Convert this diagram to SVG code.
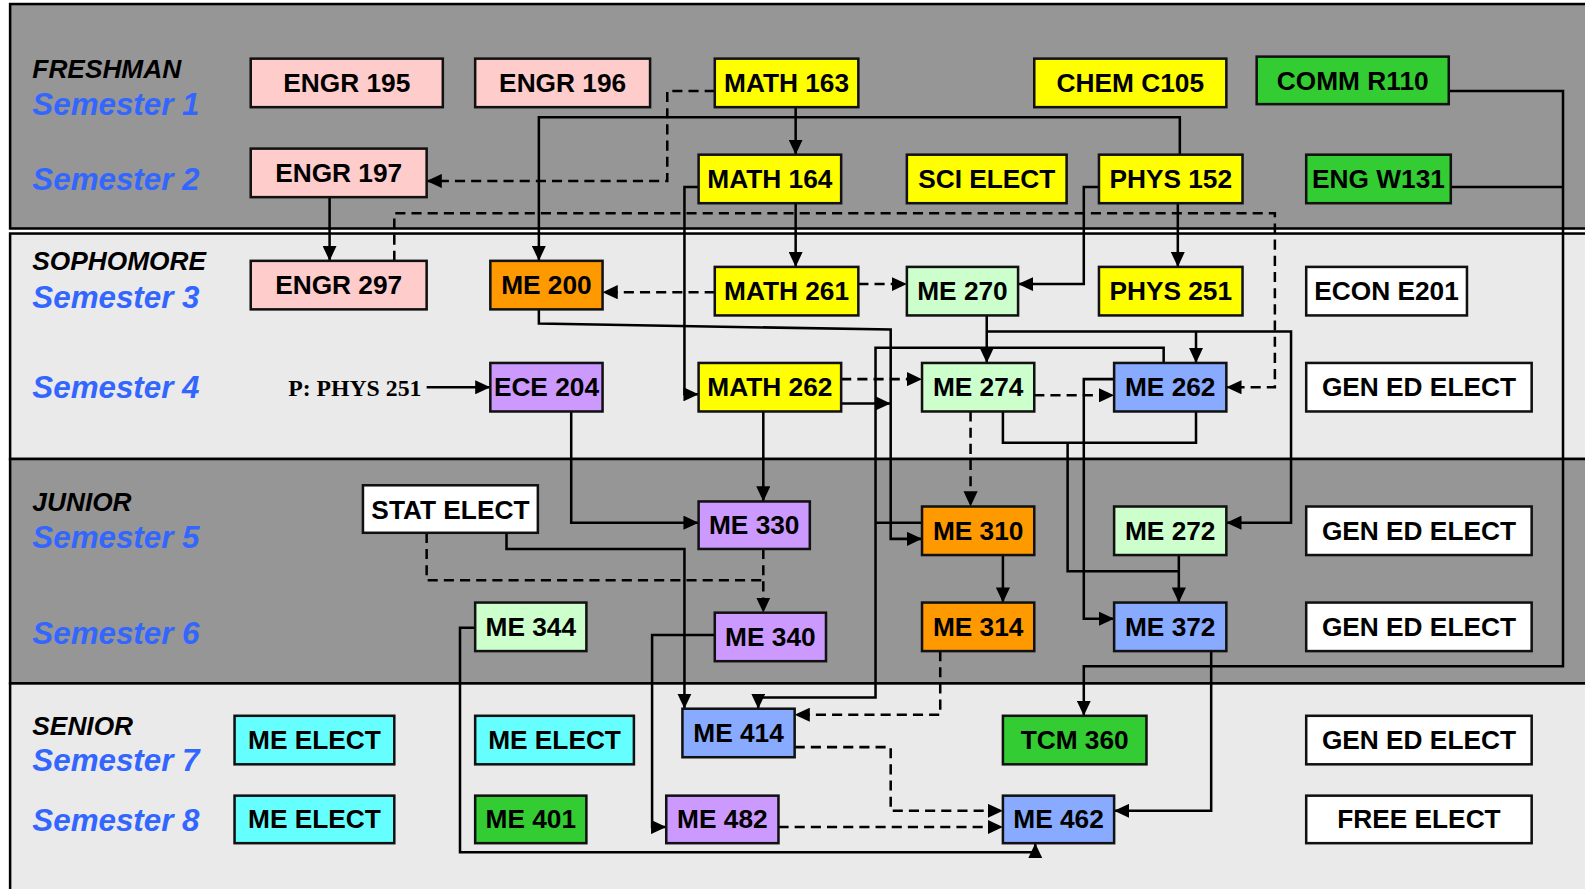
<svg xmlns="http://www.w3.org/2000/svg" width="1585" height="889" viewBox="0 0 1585 889">
<defs>
<marker id="ah" markerUnits="userSpaceOnUse" markerWidth="16" markerHeight="14" refX="15" refY="7" orient="auto" viewBox="0 0 16 14">
<path d="M0,0 L15,7 L0,14 z" fill="#000"/>
</marker>
<style>
.band{stroke:#000;stroke-width:2.5}
.dark{fill:#969696}
.light{fill:#eaeaea}
.yr{font-family:"Liberation Sans",Arial,sans-serif;font-weight:bold;font-style:italic;font-size:26px;fill:#000}
.sem{font-family:"Liberation Sans",Arial,sans-serif;font-weight:bold;font-style:italic;font-size:31px;fill:#3366ff}
.n rect{stroke:#111;stroke-width:2.5}
.n text{font-family:"Liberation Sans",Arial,sans-serif;font-weight:bold;font-size:26px;fill:#000;text-anchor:middle}
.pink{fill:#ffcccc}.yel{fill:#ffff00}.grn{fill:#33cc33}.org{fill:#ff9900}.lg{fill:#ccffcc}.pur{fill:#cc99ff}.blu{fill:#88aaff}.cya{fill:#66ffff}.wht{fill:#ffffff}
#connectors path{fill:none;stroke:#000;stroke-width:2.5}
#connectors path.d{stroke-dasharray:10,6}
#connectors path.a{marker-end:url(#ah)}
.note{font-family:"Liberation Serif","Times New Roman",serif;font-weight:bold;font-size:23.5px;fill:#000}
</style>
</defs>
<rect x="0" y="0" width="1585" height="889" fill="#ffffff"/>
<g transform="scale(1.011)">
<g id="bands">
<rect class="band dark" x="10" y="4" width="1600" height="222"/>
<rect class="band light" x="10" y="231" width="1600" height="223"/>
<rect class="band dark" x="10" y="454" width="1600" height="222"/>
<rect class="band light" x="10" y="676" width="1600" height="240"/>
</g>
<g id="labels">
<text class="yr" x="32" y="77">FRESHMAN</text>
<text class="sem" x="32" y="114">Semester 1</text>
<text class="sem" x="32" y="188">Semester 2</text>
<text class="yr" x="32" y="267">SOPHOMORE</text>
<text class="sem" x="32" y="305">Semester 3</text>
<text class="sem" x="32" y="394">Semester 4</text>
<text class="yr" x="32" y="505">JUNIOR</text>
<text class="sem" x="32" y="542">Semester 5</text>
<text class="sem" x="32" y="637">Semester 6</text>
<text class="yr" x="32" y="727">SENIOR</text>
<text class="sem" x="32" y="763">Semester 7</text>
<text class="sem" x="32" y="822">Semester 8</text>
<text class="note" x="285" y="392">P: PHYS 251</text>
</g>
<g id="connectors">
<path class="d a" d="M707,90 H660 V179 H422"/>
<path class="a" d="M787,106 V153"/>
<path class="a" d="M1167,153 V116 H533 V258"/>
<path class="a" d="M787,201 V264"/>
<path class="a" d="M691,185 H677 V390 H691"/>
<path class="a" d="M1165,201 V264"/>
<path class="a" d="M1087,185 H1072 V281 H1007"/>
<path class="d a" d="M390,258 V211 H1261 V383 H1213"/>
<path class="a" d="M326,195 V258"/>
<path class="d a" d="M707,289 H596"/>
<path class="d a" d="M849,281 H897"/>
<path class="a" d="M533,306 V320 L881,326 V533 H912"/>
<path class="a" d="M1151,359 V344 H866 V690 H750 V701"/>
<path d="M866,517 H912"/>
<path class="a" d="M976,312 V359"/>
<path class="a" d="M976,328 H1277 V517 H1213"/>
<path class="a" d="M1183,328 V359"/>
<path class="d a" d="M1023,391 H1102"/>
<path class="a" d="M1102,375 H1072 V612 H1102"/>
<path d="M992,407 V438 H1183 V407"/>
<path d="M1056,438 V565 H1166"/>
<path class="a" d="M1166,549 V596"/>
<path class="d a" d="M960,407 V501"/>
<path class="d a" d="M832,375 H912"/>
<path class="a" d="M832,399 H881"/>
<path class="a" d="M755,407 V496"/>
<path class="a" d="M565,407 V517 H691"/>
<path class="d a" d="M755,543 V606"/>
<path class="d" d="M422,527 V574 H755"/>
<path class="a" d="M501,527 V543 H677 V701"/>
<path class="a" d="M707,628 H645 V818 H659"/>
<path class="a" d="M470,621 H455 V843 H1024 V834"/>
<path class="d a" d="M930,644 V707 H786"/>
<path class="a" d="M992,549 V596"/>
<path class="d a" d="M786,739 H881 V802 H992"/>
<path class="d a" d="M770,818 H992"/>
<path class="a" d="M1198,644 V802 H1102"/>
<path class="a" d="M1433,90 H1546 V659 H1072 V708"/>
<path d="M1435,185 H1546"/>
<path class="a" d="M422,383 H485"/>
</g>
<g id="engr195" class="n"><rect class="pink" x="248" y="58" width="190" height="48"/><text x="343" y="91">ENGR 195</text></g>
<g id="engr196" class="n"><rect class="pink" x="470" y="58" width="173" height="48"/><text x="556.5" y="91">ENGR 196</text></g>
<g id="math163" class="n"><rect class="yel" x="707" y="58" width="142" height="48"/><text x="778" y="91">MATH 163</text></g>
<g id="chemc105" class="n"><rect class="yel" x="1023" y="58" width="190" height="48"/><text x="1118" y="91">CHEM C105</text></g>
<g id="commr110" class="n"><rect class="grn" x="1243" y="56" width="190" height="47"/><text x="1338" y="89">COMM R110</text></g>
<g id="engr197" class="n"><rect class="pink" x="248" y="147" width="174" height="48"/><text x="335" y="180">ENGR 197</text></g>
<g id="math164" class="n"><rect class="yel" x="691" y="153" width="141" height="48"/><text x="761.5" y="186">MATH 164</text></g>
<g id="scielect" class="n"><rect class="yel" x="897" y="153" width="158" height="48"/><text x="976" y="186">SCI ELECT</text></g>
<g id="phys152" class="n"><rect class="yel" x="1087" y="153" width="142" height="48"/><text x="1158" y="186">PHYS 152</text></g>
<g id="engw131" class="n"><rect class="grn" x="1292" y="153" width="143" height="48"/><text x="1363.5" y="186">ENG W131</text></g>
<g id="engr297" class="n"><rect class="pink" x="248" y="258" width="174" height="48"/><text x="335" y="291">ENGR 297</text></g>
<g id="me200" class="n"><rect class="org" x="485" y="258" width="111" height="48"/><text x="540.5" y="291">ME 200</text></g>
<g id="math261" class="n"><rect class="yel" x="707" y="264" width="142" height="48"/><text x="778" y="297">MATH 261</text></g>
<g id="me270" class="n"><rect class="lg" x="897" y="264" width="110" height="48"/><text x="952" y="297">ME 270</text></g>
<g id="phys251" class="n"><rect class="yel" x="1087" y="264" width="142" height="48"/><text x="1158" y="297">PHYS 251</text></g>
<g id="econe201" class="n"><rect class="wht" x="1292" y="264" width="159" height="48"/><text x="1371.5" y="297">ECON E201</text></g>
<g id="ece204" class="n"><rect class="pur" x="485" y="359" width="111" height="48"/><text x="540.5" y="392">ECE 204</text></g>
<g id="math262" class="n"><rect class="yel" x="691" y="359" width="141" height="48"/><text x="761.5" y="392">MATH 262</text></g>
<g id="me274" class="n"><rect class="lg" x="912" y="359" width="111" height="48"/><text x="967.5" y="392">ME 274</text></g>
<g id="me262" class="n"><rect class="blu" x="1102" y="359" width="111" height="48"/><text x="1157.5" y="392">ME 262</text></g>
<g id="gened4" class="n"><rect class="wht" x="1292" y="359" width="223" height="48"/><text x="1403.5" y="392">GEN ED ELECT</text></g>
<g id="statelect" class="n"><rect class="wht" x="359" y="480" width="173" height="47"/><text x="445.5" y="513">STAT ELECT</text></g>
<g id="me330" class="n"><rect class="pur" x="691" y="496" width="110" height="47"/><text x="746" y="528">ME 330</text></g>
<g id="me310" class="n"><rect class="org" x="912" y="501" width="111" height="48"/><text x="967.5" y="534">ME 310</text></g>
<g id="me272" class="n"><rect class="lg" x="1102" y="501" width="111" height="48"/><text x="1157.5" y="534">ME 272</text></g>
<g id="gened5" class="n"><rect class="wht" x="1292" y="501" width="223" height="48"/><text x="1403.5" y="534">GEN ED ELECT</text></g>
<g id="me344" class="n"><rect class="lg" x="470" y="596" width="110" height="48"/><text x="525" y="629">ME 344</text></g>
<g id="me340" class="n"><rect class="pur" x="707" y="606" width="110" height="48"/><text x="762" y="639">ME 340</text></g>
<g id="me314" class="n"><rect class="org" x="912" y="596" width="111" height="48"/><text x="967.5" y="629">ME 314</text></g>
<g id="me372" class="n"><rect class="blu" x="1102" y="596" width="111" height="48"/><text x="1157.5" y="629">ME 372</text></g>
<g id="gened6" class="n"><rect class="wht" x="1292" y="596" width="223" height="48"/><text x="1403.5" y="629">GEN ED ELECT</text></g>
<g id="meelect7a" class="n"><rect class="cya" x="232" y="708" width="158" height="48"/><text x="311" y="741">ME ELECT</text></g>
<g id="meelect7b" class="n"><rect class="cya" x="470" y="708" width="157" height="48"/><text x="548.5" y="741">ME ELECT</text></g>
<g id="me414" class="n"><rect class="blu" x="675" y="701" width="111" height="48"/><text x="730.5" y="734">ME 414</text></g>
<g id="tcm360" class="n"><rect class="grn" x="992" y="708" width="142" height="48"/><text x="1063" y="741">TCM 360</text></g>
<g id="gened7" class="n"><rect class="wht" x="1292" y="708" width="223" height="48"/><text x="1403.5" y="741">GEN ED ELECT</text></g>
<g id="meelect8" class="n"><rect class="cya" x="232" y="787" width="158" height="47"/><text x="311" y="819">ME ELECT</text></g>
<g id="me401" class="n"><rect class="grn" x="470" y="787" width="110" height="47"/><text x="525" y="819">ME 401</text></g>
<g id="me482" class="n"><rect class="pur" x="659" y="787" width="111" height="47"/><text x="714.5" y="819">ME 482</text></g>
<g id="me462" class="n"><rect class="blu" x="992" y="787" width="110" height="47"/><text x="1047" y="819">ME 462</text></g>
<g id="freeelect" class="n"><rect class="wht" x="1292" y="787" width="223" height="47"/><text x="1403.5" y="819">FREE ELECT</text></g>
</g>
</svg>
